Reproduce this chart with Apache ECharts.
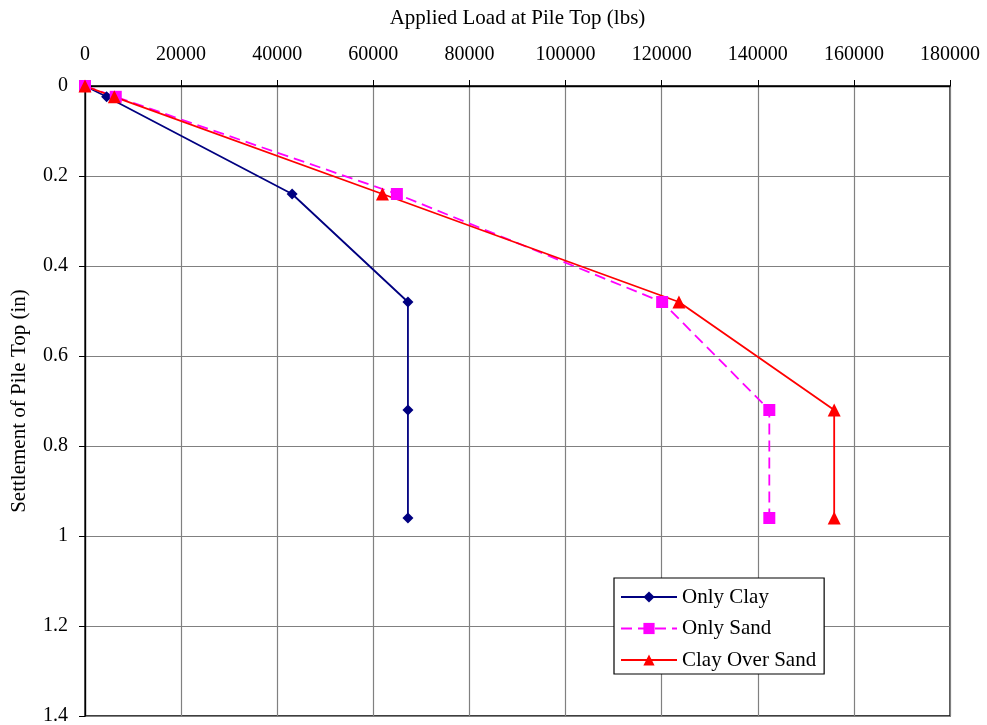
<!DOCTYPE html>
<html><head><meta charset="utf-8">
<script src="https://cdn.jsdelivr.net/npm/echarts@6/dist/echarts.min.js"></script>
<style>html,body{margin:0;padding:0;background:#fff}#c{width:987px;height:725px}</style>
</head><body><div id="c"></div>
<script>
const clayLoad = [0, 4500, 43100, 67200, 67200, 67200];
const claySettle = [0, 0.024, 0.24, 0.48, 0.72, 0.96];
const sandLoad = [0, 6400, 64900, 120100, 142400, 142400];
const sandSettle = [0, 0.024, 0.24, 0.48, 0.72, 0.96];
const cosLoad = [0, 6100, 61900, 123600, 155900, 155900];
const cosSettle = [0, 0.024, 0.24, 0.48, 0.72, 0.96];
const seriesNames = ['Only Clay', 'Only Sand', 'Clay Over Sand'];

const pair = (xs, ys) => xs.map((x, i) => [x, ys[i]]);
const font = 'Liberation Serif, Times New Roman, serif';
const chart = echarts.init(document.getElementById('c'));
chart.setOption({
  animation: false,
  backgroundColor: '#fff',
  textStyle: {fontFamily: font},
  grid: {left: 85, right: 37, top: 86, bottom: 9, outerBoundsMode: 'none', containLabel: false,
         show: true, borderColor: '#000', borderWidth: 1.3, backgroundColor: 'transparent'},
  xAxis: {
    type: 'value', position: 'top', min: 0, max: 180000, interval: 20000,
    name: 'Applied Load at Pile Top (lbs)', nameLocation: 'middle', nameGap: 57,
    nameTextStyle: {fontFamily: font, fontSize: 21, color: '#000'},
    axisLine: {lineStyle: {color: '#000', width: 1.3}},
    axisTick: {show: true, inside: false, length: 6, lineStyle: {color: '#000'}},
    axisLabel: {fontFamily: font, fontSize: 20, color: '#000', margin: 21, formatter: v => String(v)},
    splitLine: {show: true, lineStyle: {color: '#808080', width: 1.2}}
  },
  yAxis: {
    type: 'value', inverse: true, min: 0, max: 1.4, interval: 0.2,
    name: 'Settlement of Pile Top (in)', nameLocation: 'middle', nameGap: 55,
    nameTextStyle: {fontFamily: font, fontSize: 21, color: '#000'},
    axisLine: {lineStyle: {color: '#000', width: 1.3}},
    axisTick: {show: true, inside: false, length: 6, lineStyle: {color: '#000'}},
    axisLabel: {fontFamily: font, fontSize: 20, color: '#000', margin: 17, formatter: v => String(Math.round(v * 10) / 10)},
    splitLine: {show: true, lineStyle: {color: '#808080', width: 1.2}}
  },
  legend: {
    show: true, orient: 'vertical', left: 614, top: 578, width: 213,
    padding: [8, 8, 3, 6], itemGap: 9.5, itemWidth: 56, itemHeight: 14,
    backgroundColor: '#fff', borderColor: '#000', borderWidth: 1.2,
    textStyle: {fontFamily: font, fontSize: 21, lineHeight: 22, color: '#000'},
    data: seriesNames
  },
  series: [
    {name: seriesNames[0], type: 'line', data: pair(clayLoad, claySettle),
     symbol: 'diamond', symbolSize: 11, color: '#000080',
     lineStyle: {color: '#000080', width: 1.8}, itemStyle: {color: '#000080'}},
    {name: seriesNames[1], type: 'line', data: pair(sandLoad, sandSettle),
     symbol: 'rect', symbolSize: 12, color: '#ff00ff',
     lineStyle: {color: '#ff00ff', width: 1.8, type: [11, 6]}, itemStyle: {color: '#ff00ff'}},
    {name: seriesNames[2], type: 'line', data: pair(cosLoad, cosSettle),
     symbol: 'triangle', symbolSize: 13, color: '#ff0000',
     lineStyle: {color: '#ff0000', width: 1.8}, itemStyle: {color: '#ff0000'}}
  ]
});
</script></body></html>
